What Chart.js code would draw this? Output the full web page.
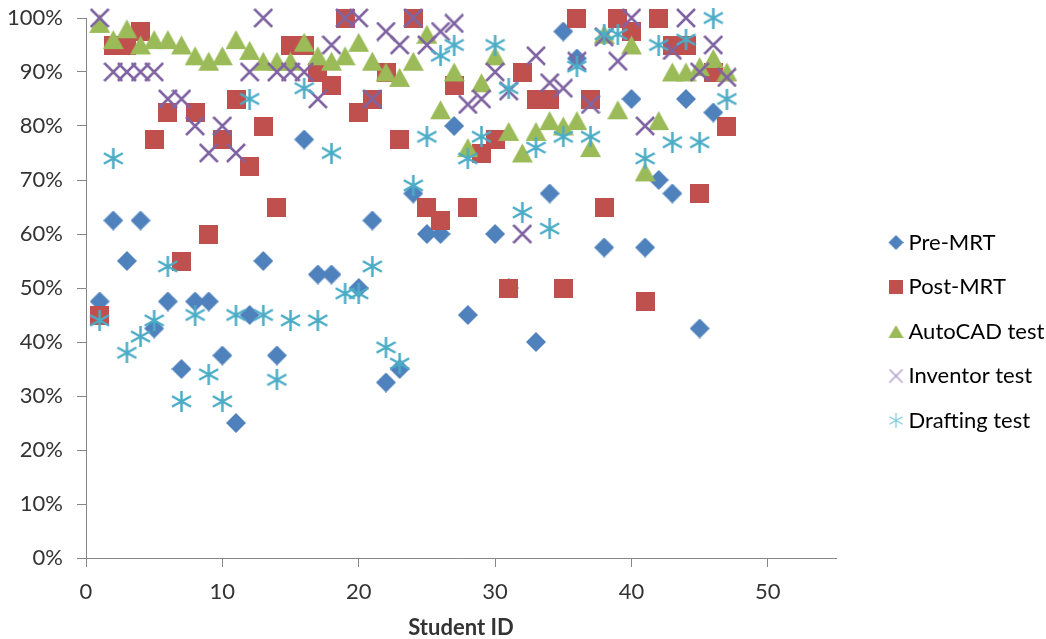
<!DOCTYPE html>
<html lang="en">
<head>
<meta charset="UTF-8">
<title>Scores by student</title>
<script src="https://cdn.jsdelivr.net/npm/chart.js"></script>
<style>
  html, body { margin: 0; background: #fff; }
  #wrap { width: 1046px; height: 639px; }
</style>
</head>
<body>
<div id="wrap"><canvas id="grafico" width="1046" height="639"></canvas></div>
<script>
// student ids on the x axis
const studentIds = [1, 2, 3, 4, 5, 6, 7, 8, 9, 10, 11, 12, 13, 14, 15, 16, 17, 18, 19, 20, 21, 22, 23, 24,
  25, 26, 27, 28, 29, 30, 31, 32, 33, 34, 35, 36, 37, 38, 39, 40, 41, 42, 43, 44, 45, 46, 47];

// scores in %, null = no mark for that student
const preMrt = [47.5, 62.5, 55, 62.5, 42.5, 47.5, 35, 47.5, 47.5, 37.5, 25, 45, 55, 37.5, null, 77.5, 52.5, 52.5, null, 50,
  62.5, 32.5, 35, 67.5, 60, 60, 80, 45, null, 60, 50, null, 40, 67.5, 97.5, 92.5, null, 57.5, null, 85,
  57.5, 70, 67.5, 85, 42.5, 82.5, null];
const postMrt = [45, 95, 95, 97.5, 77.5, 82.5, 55, 82.5, 60, 77.5, 85, 72.5, 80, 65, 95, 95, 90, 87.5, 100, 82.5,
  85, 90, 77.5, 100, 65, 62.5, 87.5, 65, 75, 77.5, 50, 90, 85, 85, 50, 100, 85, 65, 100, 97.5,
  47.5, 100, 95, 95, 67.5, 90, 80];
const autocad = [99, 96, 98, 95, 96, 96, 95, 93, 92, 93, 96, 94, 92, 92, 92, 95.5, 93, 92, 93, 95.5,
  92, 90, 89, 92, 97, 83, 90, 76, 88, 93, 79, 75, 79, 81, 80, 81, 76, 97, 83, 95,
  71.5, 81, 90, 90, 91, 92.5, 90];
const inventor = [100, 90, 90, 90, 90, 85, 85, 80, 75, 80, 75, 90, 100, 90, 90, 90, 85, 95, 100, 100,
  85, 97.5, 95, 100, 95, 97.5, 99, 84, 85, 90, 86.5, 60, 93, 88, 87, 92, 84, 96.5, 92, 100,
  80, null, 94, 100, 90, 95, 89];
const drafting = [44, 74, 38, 41, 44, 54, 29, 45, 34, 29, 45, 85, 45, 33, 44, 87, 44, 75, 49, 49,
  54, 39, 36, 69, 78, 93, 95, 74, 78, 95, 87, 64, 76, 61, 78, 91, 78, 97, 97, null,
  74, 95, 77, 96, 77, 100, 85];

const seriesNames = ["Pre-MRT", "Post-MRT", "AutoCAD test", "Inventor test", "Drafting test"];
const colores = ["#4F81BD", "#C0504D", "#9BBB59", "#8064A2", "#4BACC6"];
const texto = "#333333";

// marker glyphs drawn on small canvases (w = canvas width, glyph sits at the right end)
function marca(forma, s, color, lw, w) {
  const c = document.createElement("canvas");
  w = w || s;
  c.width = w; c.height = s;
  const g = c.getContext("2d");
  g.translate(w - s, 0);
  const m = s / 2;
  g.fillStyle = color;
  g.strokeStyle = color;
  g.lineWidth = lw;
  g.beginPath();
  if (forma === "diamond") {
    g.moveTo(m, 0); g.lineTo(s, m); g.lineTo(m, s); g.lineTo(0, m); g.closePath(); g.fill();
  } else if (forma === "square") {
    g.rect(0, 0, s, s); g.fill();
  } else if (forma === "triangle") {
    g.moveTo(m, 1); g.lineTo(s, s - 1); g.lineTo(0, s - 1); g.closePath(); g.fill();
  } else if (forma === "x") {
    g.moveTo(1, 1); g.lineTo(s - 1, s - 1);
    g.moveTo(s - 1, 1); g.lineTo(1, s - 1);
    g.stroke();
  } else {
    g.moveTo(m, 0); g.lineTo(m, s);
    g.moveTo(1, s * 0.25); g.lineTo(s - 1, s * 0.75);
    g.moveTo(s - 1, s * 0.25); g.lineTo(1, s * 0.75);
    g.stroke();
  }
  return c;
}

const formas = ["diamond", "square", "triangle", "x", "star"];
const tamPlot = [20, 19, 21, 20, 21];
const marcasPlot = formas.map((f, i) => marca(f, tamPlot[i], colores[i], 2.5));
const marcasLeyenda = [
  marca("diamond", 15, colores[0], 1, 51),
  marca("square", 14, colores[1], 1, 50),
  marca("triangle", 15, colores[2], 1, 51),
  marca("x", 15, "#A996C4", 1.3, 51),
  marca("star", 15, "#7FCBE0", 1.3, 51)
];

function puntos(vals) {
  const out = [];
  studentIds.forEach((id, i) => {
    if (vals[i] !== null) out.push({ x: id, y: vals[i] });
  });
  return out;
}

// fixed legend width so the plot ends where the original does
const anchoLeyenda = {
  id: "anchoLeyenda",
  beforeLayout(chart) {
    const lg = chart.legend;
    if (!lg || lg._ancho) return;
    const fitOrig = lg.fit.bind(lg);
    lg.fit = function () { fitOrig(); this.width = 210; };
    const drawOrig = lg.draw.bind(lg);
    lg.draw = function () {
      this.ctx.save();
      this.ctx.translate(0, 3);
      drawOrig();
      this.ctx.restore();
    };
    lg._ancho = true;
  }
};

const series = [preMrt, postMrt, autocad, inventor, drafting];
const fuente = { family: "Lato", size: 22 };

new Chart(document.getElementById("grafico"), {
  type: "scatter",
  data: {
    datasets: series.map((vals, i) => ({
      label: seriesNames[i],
      data: puntos(vals),
      pointStyle: marcasPlot[i],
      pointRadius: 10,
      backgroundColor: colores[i],
      borderColor: colores[i],
      clip: false,
      order: 5 - i
    }))
  },
  options: {
    responsive: false,
    animation: false,
    events: [],
    layout: { autoPadding: false, padding: { top: 18, right: 0, bottom: 0, left: 0 } },
    scales: {
      x: {
        type: "linear",
        min: 0,
        max: 55,
        afterBuildTicks: sc => { sc.ticks = sc.ticks.filter(t => t.value % 10 === 0); },
        afterFit: sc => { sc.height = 81; },
        ticks: { stepSize: 10, color: texto, font: fuente, padding: 12, maxRotation: 0 },
        grid: { drawOnChartArea: false, drawTicks: true, tickLength: 9, color: "#868686" },
        border: { color: "#868686", width: 1 },
        title: {
          display: true,
          text: "Student ID",
          color: texto,
          font: { family: "Lato", size: 22, weight: "bold", lineHeight: 1 },
          padding: { top: 0, bottom: 0 }
        }
      },
      y: {
        min: 0,
        max: 100,
        afterFit: sc => { sc.width = 86; sc.paddingTop = 0; sc.paddingBottom = 0; },
        ticks: { stepSize: 10, color: texto, font: fuente, padding: 14, callback: v => v + "%" },
        grid: { drawOnChartArea: false, drawTicks: true, tickLength: 9, color: "#868686" },
        border: { color: "#868686", width: 1 }
      }
    },
    plugins: {
      tooltip: { enabled: false },
      legend: {
        position: "right",
        labels: {
          usePointStyle: true,
          boxWidth: 39,
          pointStyleWidth: 39,
          boxHeight: 15,
          padding: 22.5,
          color: texto,
          font: fuente,
          generateLabels: chart => chart.data.datasets.map((ds, i) => ({
            text: ds.label,
            pointStyle: marcasLeyenda[i],
            fillStyle: colores[i],
            strokeStyle: colores[i],
            lineWidth: 0,
            hidden: false,
            datasetIndex: i
          }))
        }
      }
    }
  },
  plugins: [anchoLeyenda]
});
</script>
</body>
</html>
